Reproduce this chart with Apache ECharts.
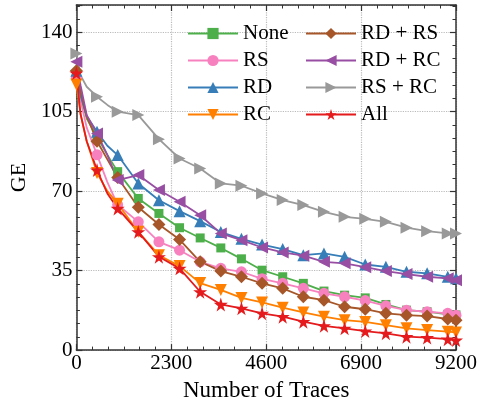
<!DOCTYPE html>
<html>
<head>
	<meta charset="utf-8" />
	<title>GE vs Number of Traces</title>
	<script type="text/javascript" src="https://cdn.jsdelivr.net/npm/echarts@6/dist/echarts.min.js"></script>
	<style>
		html, body { margin: 0; padding: 0; background: #fff; }
		#chart { width: 480px; height: 407px; }
	</style>
</head>
<body>
	<div id="chart"></div>
	<script type="text/javascript">
		var traces = [0, 100, 250, 500, 750, 1000, 1500, 2000, 2500, 3000, 3500, 4000, 4500, 5000, 5500, 6000, 6500, 7000, 7500, 8000, 8500, 9000, 9200];

		var geNone = [121, 112, 102, 94, 86, 78.6, 66.8, 60.2, 53.9, 49.4, 45, 40.2, 35.2, 32.3, 29.4, 26, 24.2, 23, 20.1, 17.6, 16.9, 15.7, 15.5];
		var geRS = [120, 110, 98, 86, 74, 64, 56.5, 47.7, 44, 38.9, 36, 34.5, 31.4, 29.4, 27.2, 25, 23.5, 21.8, 19.5, 17.6, 16.9, 16.2, 15.4];
		var geRD = [123, 112, 103, 96.2, 90, 85.9, 73.4, 66, 61.2, 56.8, 52, 49, 46.5, 44.5, 41.8, 42.6, 41.1, 37.7, 36.7, 34.5, 33.8, 32.3, 31.6];
		var geRC = [117, 104, 92, 78, 70, 64.5, 52.1, 41.8, 37, 29.5, 26.5, 23, 21, 18.7, 16.6, 14.7, 13.2, 12.4, 11, 9.6, 8.8, 8.1, 7.8];
		var geRDRS = [123, 114, 103, 92, 84, 76, 62.9, 55.3, 48.7, 38.9, 34.8, 32.3, 29.4, 27.2, 23.5, 22, 19.1, 18, 16.2, 15.4, 15, 13.7, 13.2];
		var geRDRC = [127, 116.7, 103.5, 95.4, 86, 74.9, 77.1, 70.5, 65.3, 59.4, 51.4, 48.4, 45.2, 43, 41.6, 38.9, 38.2, 36.5, 34.8, 33.5, 32.3, 31.6, 30.8];
		var geRSRC = [130.6, 121, 116, 111.6, 108, 105, 103.5, 92.9, 84.4, 80, 73.4, 72.4, 69, 66.1, 63.9, 60.9, 58.7, 57.8, 56.5, 53.9, 52.4, 51.4, 51.4];
		var geAll = [122, 104, 92, 79.3, 69, 62.4, 52.1, 41.1, 36, 25.7, 20.1, 18.4, 16.2, 14.7, 12.5, 10.7, 9.6, 8.4, 7.4, 5.9, 5.5, 4.8, 4.4];

		var names = ['None', 'RS', 'RD', 'RC', 'RD + RS', 'RD + RC', 'RS + RC', 'All'];
		var xTicks = [0, 2300, 4600, 6900, 9200];
		var yTicks = [0, 35, 70, 105, 140];

		var starPath = 'path://M50,0 L61,35 L98,35 L68,57 L79,91 L50,70 L21,91 L32,57 L2,35 L39,35 Z';
		var font = "'Liberation Serif', 'Times New Roman', serif";

		var styles = [
			{ values: geNone, color: '#4daf4a', symbol: 'rect', size: 9, rotate: 0 },
			{ values: geRS, color: '#f781bf', symbol: 'circle', size: 11, rotate: 0 },
			{ values: geRD, color: '#377eb8', symbol: 'triangle', size: 12, rotate: 0 },
			{ values: geRC, color: '#ff7f00', symbol: 'triangle', size: 12, rotate: 180 },
			{ values: geRDRS, color: '#a65628', symbol: 'diamond', size: 13, rotate: 0 },
			{ values: geRDRC, color: '#984ea3', symbol: 'triangle', size: 12, rotate: 90 },
			{ values: geRSRC, color: '#999999', symbol: 'triangle', size: 12, rotate: -90 },
			{ values: geAll, color: '#e41a1c', symbol: starPath, size: 14, rotate: 0 }
		];

		var series = [];
		for (var i = 0; i < names.length; i++) {
			var s = styles[i];
			var data = [];
			for (var j = 0; j < traces.length; j++) {
				var item = { value: [traces[j], s.values[j]] };
				if (!(traces[j] % 500 === 0 || traces[j] === 9200)) {
					item.symbol = 'none';
				}
				data.push(item);
			}
			series.push({
				name: names[i],
				type: 'line',
				xAxisIndex: 0,
				yAxisIndex: 0,
				data: data,
				symbol: s.symbol,
				symbolSize: s.size,
				symbolRotate: s.rotate,
				showAllSymbol: true,
				color: s.color,
				lineStyle: { width: 1.8, color: s.color },
				itemStyle: { color: s.color },
				animation: false
			});
		}

		var axisLine = { show: true, onZero: false, lineStyle: { color: '#333', width: 1.5 } };
		var majorTick = { show: true, inside: true, length: 6, lineStyle: { color: '#333', width: 1.2 } };
		var minorTick = { show: true, splitNumber: 6, length: 3.5, lineStyle: { color: '#333', width: 1 } };
		var gridLine = { show: true, lineStyle: { color: '#bbbbbb', type: 'dotted', width: 1.2 } };

		var chart = echarts.init(document.getElementById('chart'), null, { renderer: 'canvas' });
		var option = {
			backgroundColor: '#fff',
			animation: false,
			grid: { left: 66, right: 22, top: 5, bottom: 55 },
			legend: [
				{
					data: names.slice(0, 4),
					orient: 'vertical',
					left: 182,
					top: 18,
					itemWidth: 50,
					itemHeight: 14,
					itemGap: 6,
					textStyle: { fontFamily: font, fontSize: 21, color: '#000' }
				},
				{
					data: names.slice(4),
					orient: 'vertical',
					left: 300,
					top: 18,
					itemWidth: 50,
					itemHeight: 14,
					itemGap: 6,
					textStyle: { fontFamily: font, fontSize: 21, color: '#000' }
				}
			],
			xAxis: [
				{
					type: 'value',
					min: 0,
					max: 9200,
					interval: 2300,
					name: 'Number of Traces',
					nameLocation: 'middle',
					nameGap: 27,
					nameTextStyle: { fontFamily: font, fontSize: 23, color: '#000' },
					axisLine: axisLine,
					axisTick: majorTick,
					minorTick: minorTick,
					splitLine: gridLine,
					axisLabel: {
						fontFamily: font, fontSize: 21, color: '#000', margin: 3,
						formatter: function (v) { return xTicks.indexOf(v) >= 0 ? String(v) : ''; }
					}
				},
				{
					type: 'value',
					position: 'top',
					min: 0,
					max: 9200,
					interval: 2300,
					axisLine: axisLine,
					axisTick: majorTick,
					minorTick: minorTick,
					splitLine: { show: false },
					axisLabel: { show: false }
				}
			],
			yAxis: [
				{
					type: 'value',
					min: 0,
					max: 152,
					interval: 35,
					name: 'GE',
					nameLocation: 'middle',
					nameGap: 39,
					nameTextStyle: { fontFamily: font, fontSize: 22, color: '#000' },
					axisLine: axisLine,
					axisTick: majorTick,
					minorTick: minorTick,
					splitLine: gridLine,
					axisLabel: {
						fontFamily: font, fontSize: 21, color: '#000', margin: 4, showMaxLabel: false,
						formatter: function (v) { return yTicks.indexOf(v) >= 0 ? String(v) : ''; }
					}
				},
				{
					type: 'value',
					position: 'right',
					min: 0,
					max: 152,
					interval: 35,
					axisLine: axisLine,
					axisTick: majorTick,
					minorTick: minorTick,
					splitLine: { show: false },
					axisLabel: { show: false }
				}
			],
			series: series
		};
		chart.setOption(option);
	</script>
</body>
</html>
